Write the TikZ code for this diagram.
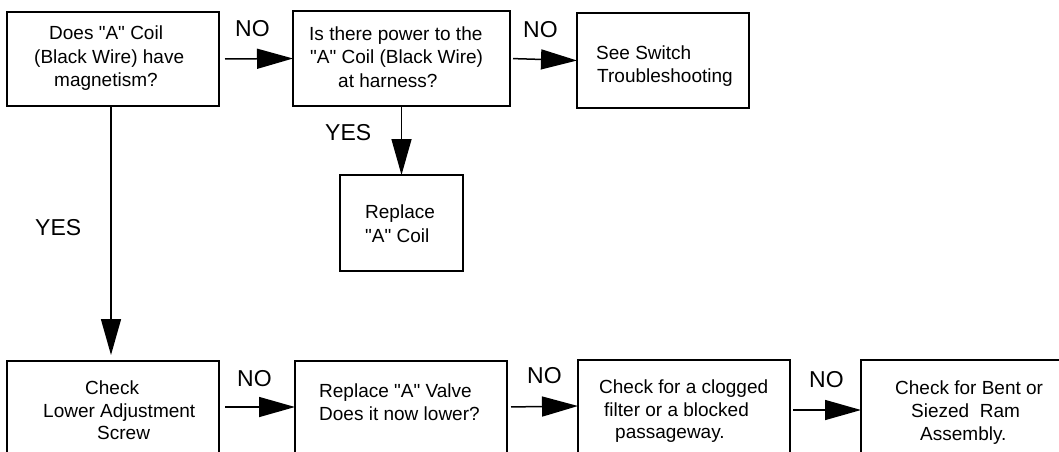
\documentclass[tikz,border=0pt]{standalone}
\usepackage{fontspec}
\setmainfont{Liberation Sans}
\usetikzlibrary{arrows.meta}
\newcommand\dq{\textquotedbl}
\tikzset{
  box/.style={draw=black, line width=2pt, rectangle, inner sep=0pt, outer sep=0pt},
  txt/.style={anchor=base west, inner sep=0pt, font=\fontsize{19pt}{23pt}\selectfont},
  lbl/.style={anchor=base west, inner sep=0pt, font=\fontsize{23pt}{27pt}\selectfont},
  arr/.style={line width=1.5pt, -{Triangle[length=36pt,width=20pt]}}
}
\begin{document}
\begin{tikzpicture}[x=1pt,y=-1pt]
\useasboundingbox (0,0) rectangle (1059,451);
\clip (0,0) rectangle (1059,451);
% boxes
\node[box, minimum width=212pt, minimum height=94pt] (b1) at (113,59) {};
\node[box, minimum width=217pt, minimum height=95pt] (b2) at (401.5,58.5) {};
\node[box, minimum width=172pt, minimum height=95pt] (b3) at (663,60.5) {};
\node[box, minimum width=123pt, minimum height=96pt] (b4) at (401.5,223) {};
\node[box, minimum width=212pt, minimum height=120pt] (b5) at (113,421) {};
\node[box, minimum width=212pt, minimum height=120pt] (b6) at (401,421) {};
\node[box, minimum width=212pt, minimum height=120pt] (b7) at (684,420) {};
\node[box, minimum width=220pt, minimum height=120pt] (b8) at (971,420) {};
% texts
\node[txt] (t11) at (49,39) {Does \dq A\dq{} Coil};
\node[txt] (t12) at (34,63) {(Black Wire) have};
\node[txt] (t13) at (54,86) {magnetism?};
\node[txt] (t21) at (309,40) {Is there power to the};
\node[txt] (t22) at (310,63) {\dq A\dq{} Coil (Black Wire)};
\node[txt] (t23) at (338,87) {at harness?};
\node[txt] (t31) at (596,59) {See Switch};
\node[txt] (t32) at (597,82) {Troubleshooting};
\node[txt] (t41) at (365,218) {Replace};
\node[txt] (t42) at (365,242) {\dq A\dq{} Coil};
\node[txt] (t51) at (85,394) {Check};
\node[txt] (t52) at (43,417) {Lower Adjustment};
\node[txt] (t53) at (97,439) {Screw};
\node[txt] (t61) at (319,397) {Replace \dq A\dq{} Valve};
\node[txt] (t62) at (319,420) {Does it now lower?};
\node[txt] (t71) at (599,393) {Check for a clogged};
\node[txt] (t72) at (604,416) {filter or a blocked};
\node[txt] (t73) at (615,438) {passageway.};
\node[txt] (t81) at (895,394) {Check for Bent or};
\node[txt] (t82) at (911,417) {Siezed\ \ Ram};
\node[txt] (t83) at (920,440) {Assembly.};
% labels
\node[lbl] (n1) at (235,36) {NO};
\node[lbl] (n2) at (523,37) {NO};
\node[lbl] (n3) at (237,386) {NO};
\node[lbl] (n4) at (527,383) {NO};
\node[lbl] (n5) at (809,387) {NO};
\node[lbl] (y1) at (325,140) {YES};
\node[lbl] (y2) at (35,235) {YES};
% connectors
\draw[arr, shorten <=6pt] (b1.east) -- (b2.west);
\draw[arr, shorten <=3pt] (b2.east) -- (b3.west);
\draw[arr] (b2.south) -- (b4.north);
\draw[arr, shorten >=6pt] ([xshift=-2pt]b1.south) -- ([xshift=-2pt]b5.north);
\draw[arr, shorten <=6pt] ([yshift=-46pt]b5.north east) -- ([yshift=-46pt]b6.north west);
\draw[arr, shorten <=4pt] ([yshift=-46pt]b6.north east) -- ([yshift=-46pt]b7.north west);
\draw[arr, shorten <=3pt] ([yshift=-50pt]b7.north east) -- ([yshift=-50pt]b8.north west);
\end{tikzpicture}
\end{document}
